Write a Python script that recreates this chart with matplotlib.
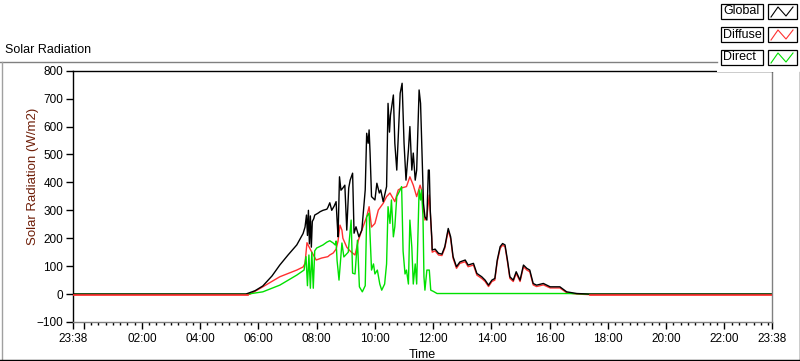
import numpy as np
import matplotlib
matplotlib.use("Agg")
import matplotlib.pyplot as plt
from matplotlib.lines import Line2D
from matplotlib.patches import Rectangle

plt.rcParams['font.family'] = ['Liberation Sans', 'DejaVu Sans']
plt.rcParams['font.size'] = 8.5

# -------------------------------------------
# Data: minutes since midnight, W/m2
# -------------------------------------------
global_t = [-22, 334, 353, 369, 388, 404, 421, 439, 452, 456, 459, 461, 463, 465, 467,
            469, 471, 474, 476, 483, 487, 493, 501, 503, 507, 511, 516, 520, 522, 524,
            527, 530, 534, 538, 542, 546, 549, 554, 557, 561, 567, 573, 580, 583, 586,
            588, 590, 593, 600, 604, 609, 612, 617, 624, 627, 630, 632, 638, 641, 645,
            649, 652, 656, 660, 664, 669, 672, 676, 679, 683, 686, 691, 694, 696, 700,
            703, 707, 710, 712, 714, 717, 718, 724, 731, 738, 744, 751, 756, 761, 768,
            775, 786, 792, 803, 810, 820, 827, 834, 841, 847, 852, 858, 863, 868, 873,
            878, 885, 891, 899, 906, 913, 919, 926, 933, 947, 961, 981, 995, 1016, 1043, 1418]
global_v = [0, 0, 12, 29, 65, 104, 140, 176, 217, 240, 283, 210, 300, 180, 280,
            168, 260, 270, 283, 290, 295, 300, 304, 310, 327, 300, 315, 331, 265, 205,
            420, 372, 380, 390, 229, 380, 408, 433, 218, 241, 205, 229, 373, 576, 540,
            588, 505, 349, 337, 397, 362, 373, 331, 385, 683, 580, 640, 713, 540, 444,
            600, 719, 755, 540, 408, 516, 600, 444, 505, 408, 444, 731, 683, 565, 325,
            277, 265, 444, 444, 300, 205, 158, 161, 146, 143, 170, 235, 205, 134, 98,
            115, 122, 104, 110, 74, 62, 50, 32, 50, 56, 122, 170, 181, 176, 122,
            62, 50, 80, 50, 104, 92, 86, 38, 32, 38, 26, 26, 8, 2, 0, 0]

diffuse_t = [-22, 338, 343, 369, 404, 439, 452, 456, 460, 464, 470, 479, 490, 503, 507,
             514, 520, 524, 528, 532, 534, 542, 549, 559, 566, 573, 583, 588, 593, 600,
             607, 617, 624, 631, 641, 648, 655, 665, 672, 679, 686, 693, 696, 700, 703,
             707, 712, 717, 718, 724, 731, 738, 744, 751, 756, 761, 768, 775, 786, 792,
             803, 810, 820, 827, 834, 841, 847, 852, 858, 863, 868, 873, 878, 885, 891,
             899, 906, 913, 919, 926, 933, 947, 961, 981, 995, 1016, 1043, 1418]
diffuse_v = [-2, -2, 0, 26, 62, 86, 97, 110, 184, 170, 150, 122, 129, 134, 140,
             147, 161, 190, 247, 229, 200, 168, 154, 140, 193, 229, 277, 313, 240, 253,
             301, 325, 349, 362, 331, 373, 380, 385, 420, 390, 349, 390, 373, 301, 265,
             277, 355, 200, 150, 155, 140, 138, 165, 228, 198, 128, 92, 110, 116, 98,
             104, 68, 56, 45, 27, 45, 50, 116, 164, 175, 170, 116, 56, 45, 74,
             45, 98, 86, 80, 33, 27, 33, 22, 22, 5, 0, -2, -2]

direct_t = [-22, 338, 369, 404, 439, 454, 458, 461, 464, 467, 470, 473, 476, 480, 493,
            501, 507, 514, 518, 520, 522, 524, 526, 532, 536, 545, 551, 554, 559, 564,
            568, 574, 580, 583, 588, 593, 597, 600, 605, 610, 614, 620, 624, 627, 631,
            634, 638, 641, 645, 652, 655, 658, 662, 665, 669, 672, 676, 679, 683, 686,
            691, 694, 696, 699, 701, 703, 707, 712, 715, 720, 728, 1000, 1043, 1418]
direct_v = [0, 0, 8, 32, 68, 86, 134, 30, 140, 21, 150, 21, 155, 165, 176,
            186, 191, 183, 176, 190, 120, 86, 50, 183, 133, 150, 265, 75, 72, 193,
            26, 8, 30, 277, 290, 86, 108, 72, 86, 36, 14, 36, 108, 313, 253,
            337, 205, 241, 349, 373, 385, 154, 72, 86, 36, 265, 168, 36, 108, 36,
            373, 337, 373, 277, 62, 14, 86, 86, 14, 10, 2, 2, 0, 0]

major_ticks = [-22, 0, 120, 240, 360, 480, 600, 720, 840, 960, 1080, 1200, 1320, 1418]
major_labels = ['23:38', '', '02:00', '04:00', '06:00', '08:00', '10:00', '12:00',
                '14:00', '16:00', '18:00', '20:00', '22:00', '23:38']
y_ticks = [-100, 0, 100, 200, 300, 400, 500, 600, 700, 800]

W, H = 800, 361
fig = plt.figure(figsize=(W / 100, H / 100), dpi=100)
fig.patch.set_facecolor('white')

def fx(x):
    return x / W

def fy(y):
    return 1 - y / H

ax = fig.add_axes([fx(73), fy(322), fx(772) - fx(73), fy(70.7) - fy(322)])
ax.plot(direct_t, direct_v, color='#00e000', lw=1.0)
ax.plot(global_t, global_v, color='black', lw=1.0)
ax.plot(diffuse_t, diffuse_v, color='#ff3030', lw=1.0, zorder=1.9)
# night-time diffuse drawn over global
ax.plot(diffuse_t[:2], diffuse_v[:2], color='#ff3030', lw=1.2, zorder=3)
ax.plot(diffuse_t[-2:], diffuse_v[-2:], color='#ff3030', lw=1.2, zorder=3)

ax.set_xlim(-22, 1418)
ax.set_ylim(-100, 800)
ax.set_xticks(major_ticks)
ax.set_xticklabels(major_labels)
ax.set_xticks(np.arange(0, 1418, 15), minor=True)
ax.set_yticks(y_ticks)
ax.tick_params(axis='x', which='major', length=5, width=1, pad=3, colors='black')
ax.tick_params(axis='x', which='minor', length=2.5, width=1, colors='black')
ax.tick_params(axis='y', which='major', length=5, width=1, pad=2, colors='black')
for side in ['left', 'top']:
    ax.spines[side].set_color('black')
for side in ['right', 'bottom']:
    ax.spines[side].set_color('#808080')
for s in ax.spines.values():
    s.set_linewidth(1)

ax.set_ylabel('Solar Radiation (W/m2)', color='#6e1e08', fontsize=9.5)
ax.yaxis.set_label_coords((39 - 73) / 699, (322 - 176) / 251.3)
ax.set_xlabel('Time', fontsize=9, labelpad=3)

# outer frame
fig.add_artist(Line2D([fx(0), fx(717)], [fy(61.7), fy(61.7)], color='#808080', lw=1))
fig.add_artist(Line2D([fx(1.5), fx(1.5)], [fy(61.7), fy(359.5)], color='#a0a0a0', lw=1))
fig.add_artist(Line2D([fx(0), fx(799.5)], [fy(359.5), fy(359.5)], color='black', lw=1))
fig.add_artist(Line2D([fx(799.5), fx(799.5)], [fy(72), fy(359.5)], color='black', lw=1))
fig.text(fx(5), fy(50), 'Solar Radiation', ha='left', va='center', fontsize=9)

# legend panel
fig.add_artist(Rectangle((fx(717), fy(72)), fx(83), fy(0) - fy(72),
                         facecolor='white', edgecolor='none'))
names = ['Global', 'Diffuse', 'Direct']
colors = ['black', '#ff3030', '#00e000']
for i, (name, c) in enumerate(zip(names, colors)):
    top = 4 + i * 23
    fig.add_artist(Rectangle((fx(721), fy(top + 15)), fx(42), fy(top) - fy(top + 15),
                             facecolor='white', edgecolor='black', lw=0.9))
    fig.text(fx(723), fy(top + 7.5), name, ha='left', va='center', fontsize=9)
    fig.add_artist(Rectangle((fx(768), fy(top + 15)), fx(29), fy(top) - fy(top + 15),
                             facecolor='white', edgecolor='black', lw=0.9))
    zx = [771, 778, 786, 793]
    zy = [top + 13, top + 3, top + 12, top + 3]
    fig.add_artist(Line2D([fx(v) for v in zx], [fy(v) for v in zy], color=c, lw=0.8))

fig.savefig('out.png', dpi=100)
